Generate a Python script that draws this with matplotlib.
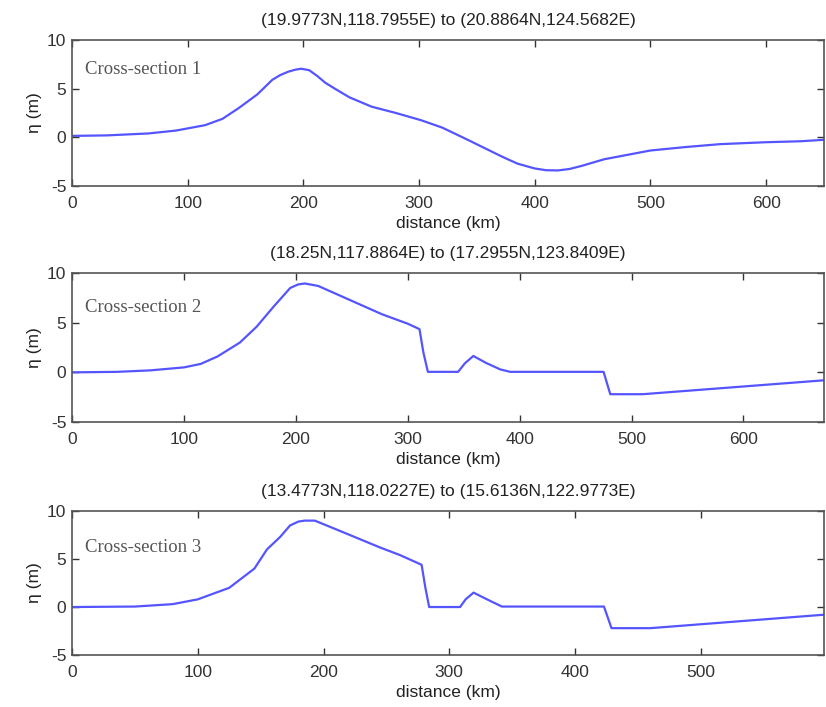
import matplotlib
matplotlib.use("Agg")
import matplotlib.pyplot as plt

# cross-section 1
dist1 = [0, 30, 66, 90, 115, 130, 144, 152, 160, 167, 173, 180, 187, 193, 198,
         205, 212, 219, 230, 240, 259, 280, 302, 320, 342, 360, 372, 385, 400,
         410, 420, 430, 440, 460, 480, 500, 530, 560, 600, 630, 650]
eta1 = [0.15, 0.2, 0.4, 0.7, 1.25, 1.9, 3.0, 3.7, 4.4, 5.2, 5.9, 6.4, 6.75,
        6.95, 7.05, 6.9, 6.3, 5.6, 4.8, 4.1, 3.15, 2.5, 1.75, 1.0, -0.25, -1.3,
        -2.0, -2.7, -3.2, -3.38, -3.4, -3.25, -2.95, -2.25, -1.8, -1.35, -1.0,
        -0.7, -0.5, -0.4, -0.25]

# cross-section 2
dist2 = [0, 40, 70, 100, 115, 130, 150, 165, 180, 195, 202, 208, 220, 247, 277,
         300, 310.5, 314, 318, 345, 351, 358.6, 370, 382.6, 391.6, 475, 481,
         510, 672]
eta2 = [0, 0.05, 0.2, 0.5, 0.85, 1.6, 3.0, 4.6, 6.6, 8.5, 8.85, 8.95, 8.7,
        7.35, 5.85, 4.9, 4.35, 2.0, 0.05, 0.05, 0.9, 1.65, 0.95, 0.3, 0.05,
        0.05, -2.2, -2.2, -0.8]

# cross-section 3
dist3 = [0, 50, 80, 100, 125, 145, 155, 165.5, 173.4, 180, 185, 193, 208, 245,
         261, 278, 281, 284, 308.6, 313, 319.3, 330, 341.8, 423, 429, 460, 598]
eta3 = [0, 0.05, 0.3, 0.8, 2.0, 4.0, 6.0, 7.3, 8.5, 8.9, 9.0, 9.0, 8.2, 6.2,
        5.4, 4.4, 2.0, 0.0, 0.0, 0.8, 1.5, 0.8, 0.05, 0.05, -2.2, -2.2, -0.8]

titles = [
    "(19.9773N,118.7955E) to (20.8864N,124.5682E)",
    "(18.25N,117.8864E) to (17.2955N,123.8409E)",
    "(13.4773N,118.0227E) to (15.6136N,122.9773E)",
]
labels = ["Cross-section 1", "Cross-section 2", "Cross-section 3"]
xmax = [650, 672, 598]
series = [(dist1, eta1), (dist2, eta2), (dist3, eta3)]

plt.rcParams["font.family"] = ["Liberation Sans", "DejaVu Sans"]
plt.rcParams["axes.unicode_minus"] = False

fig = plt.figure(figsize=(8.26, 7.07), dpi=100)
boxes = [
    [0.0872, 0.7369, 0.9104, 0.2065],
    [0.0872, 0.4031, 0.9104, 0.2107],
    [0.0872, 0.0735, 0.9104, 0.2037],
]
label_y = [0.795, 0.77, 0.75]

for i, (xs, ys) in enumerate(series):
    ax = fig.add_axes(boxes[i])
    ax.plot(xs, ys, color="#5555ff", linewidth=1.6)
    ax.set_xlim(0, xmax[i])
    ax.set_ylim(-5, 10)
    ax.set_yticks([-5, 0, 5, 10])
    ax.set_xticks(range(0, xmax[i] + 1, 100))
    ax.tick_params(direction="in", top=True, right=True, length=5,
                   width=1, colors="#333333", labelsize=12.5)
    ax.tick_params(axis="x", pad=7)
    ax.tick_params(axis="y", pad=4)
    for sp in ax.spines.values():
        sp.set_color("#555555")
        sp.set_linewidth(1.2)
    ax.set_title(titles[i], fontsize=12.5, color="#222222", pad=11)
    ax.set_xlabel("distance (km)", fontsize=12.5, color="#222222", labelpad=4)
    ax.set_ylabel("η (m)", fontsize=12.5, color="#222222", labelpad=4)
    ax.text(0.017, label_y[i], labels[i], transform=ax.transAxes,
            family="Liberation Serif", fontsize=13.5, color="#555555",
            va="center", ha="left")

fig.savefig("out.png", dpi=100)
